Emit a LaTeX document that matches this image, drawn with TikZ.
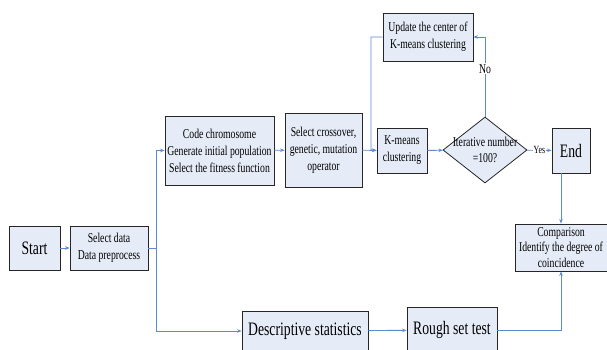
\documentclass[tikz,border=0pt]{standalone}
\usepackage{fontspec}
\setmainfont{Liberation Serif}[FakeStretch=0.72]
\usetikzlibrary{shapes.geometric,arrows.meta}

\definecolor{boxfill}{HTML}{E6ECF7}
\definecolor{linkblue}{HTML}{5B8BD3}
\definecolor{boxline}{HTML}{262626}

\tikzset{
  box/.style={draw=boxline, fill=boxfill, line width=.8pt, align=center,
    inner sep=1pt, font=\fontsize{13.5}{17}\selectfont},
  bigbox/.style={box, font=\fontsize{19}{22}\selectfont},
  wire/.style={draw=linkblue, line width=.9pt},
  link/.style={wire, -{Stealth[length=4.5pt,width=3.5pt]}},
  tag/.style={fill=white, inner sep=1pt, font=\fontsize{13.5}{17}\selectfont},
}

\begin{document}
\begin{tikzpicture}[x=1pt,y=-1pt]

        \useasboundingbox (0,0) rectangle (607,349);

        \begin{scope}[every node/.style={box}]
          \node[bigbox, minimum width=51pt, minimum height=44pt] (start)  at (34.5,248) {Start};
          \node[minimum width=78pt, minimum height=44pt]  (sel)    at (109,248)   {Select data\\Data preprocess};
          \node[minimum width=109pt, minimum height=69pt] (code)   at (219.5,150.5) {Code chromosome\\Generate initial population\\Select the fitness function};
          \node[minimum width=77pt, minimum height=74pt]  (cross)  at (323.5,150) {Select crossover,\\genetic, mutation\\operator};
          \node[minimum width=50pt, minimum height=45pt]  (kmeans) at (402,150.5) {K-means\\clustering};
          \node[diamond, minimum width=84pt, minimum height=66pt, inner sep=0pt] (iter) at (485,150) {};
          \node[bigbox, minimum width=38pt, minimum height=45pt] (end) at (571,150.5) {End};
          \node[minimum width=90pt, minimum height=48pt]  (update) at (428,37)    {Update the center of\\K-means clustering};
          \node[minimum width=92pt, minimum height=47pt, font=\fontsize{13.5}{15.5}\selectfont] (comp) at (561,247.5) {Comparison\\Identify the degree of\\coincidence};
          \node[bigbox, minimum width=126pt, minimum height=40pt] (desc)  at (305,331) {Descriptive statistics};
          \node[bigbox, minimum width=90pt, minimum height=46pt]  (rough) at (452,330) {Rough set test};
        \end{scope}

        \node[align=center, inner sep=0pt, font=\fontsize{13.5}{16}\selectfont] (itertext) at (iter) {Iterative number\\=100?};

        \coordinate (split) at (156,248);
        \coordinate (back)  at (371,150);

        \begin{scope}[every edge/.style={link}]
          \path (start)  edge (sel);
          \path (code)   edge (cross);
          \path (cross)  edge (kmeans);
          \path (kmeans) edge (iter);
          \path (iter)   edge node[tag, font=\fontsize{11}{13}\selectfont] {Yes} (end);
          \path (desc)   edge (rough);
          \path (end.south -| comp.north) edge (comp.north);
        \end{scope}

        \draw[wire] (sel.east) -- (split);
        \draw[link] (split) |- (code.west);
        \draw[link] (split) |- (desc.west);
        \draw[link] (iter.north) |- (update.east) node[tag, pos=.3] {No};
        \draw[link] (update.west) -| (back) -- (kmeans.west);
        \draw[link] (rough.east) -| (comp.south);

      \end{tikzpicture}
\end{document}
